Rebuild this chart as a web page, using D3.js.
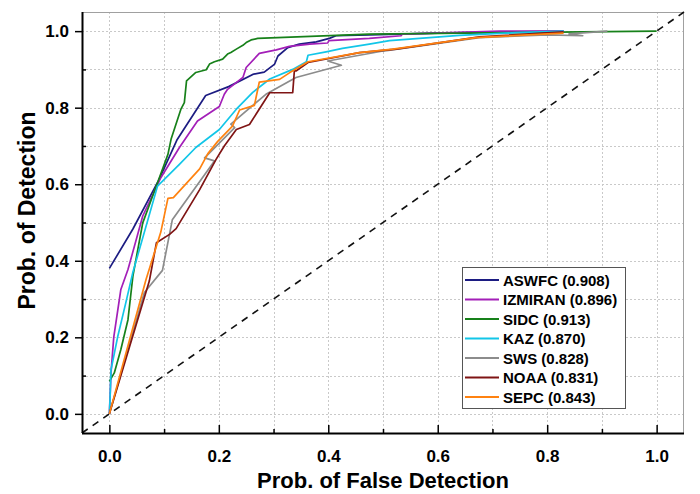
<!DOCTYPE html>
<html><head><meta charset="utf-8">
<script src="https://cdn.jsdelivr.net/npm/d3@7"></script>
<style>
body{margin:0;background:#fff}
svg{display:block;font-family:"Liberation Sans",Arial,sans-serif;font-weight:bold}
</style>
</head><body>
<svg id="chart" width="700" height="494"></svg>
<script>
// ---- data ----
const seriesNames = ["ASWFC", "IZMIRAN", "SIDC", "KAZ", "SWS", "NOAA", "SEPC"];
const seriesAUC = ["0.908", "0.896", "0.913", "0.870", "0.828", "0.831", "0.843"];
const seriesColors = ["#1c1c82", "#a31fb8", "#17811a", "#12c6e8", "#8c8c8c", "#7f1414", "#ff8210"];

const aswfcX = [0, 0.043, 0.09, 0.124, 0.176, 0.218, 0.262, 0.283, 0.302, 0.308, 0.326, 0.347, 0.378, 0.402, 0.414, 0.475, 0.6, 0.83];
const aswfcY = [0.38, 0.483, 0.61, 0.717, 0.832, 0.855, 0.887, 0.893, 0.914, 0.935, 0.957, 0.966, 0.972, 0.981, 0.988, 0.99, 0.995, 1.0];

const izmiranX = [0, 0.003, 0.008, 0.021, 0.034, 0.061, 0.094, 0.128, 0.161, 0.201, 0.21, 0.216, 0.244, 0.25, 0.274, 0.305, 0.329, 0.366, 0.399, 0.401, 0.475, 0.533, 0.535, 0.713, 0.83];
const izmiranY = [0, 0.107, 0.2, 0.325, 0.377, 0.517, 0.617, 0.696, 0.765, 0.803, 0.835, 0.848, 0.879, 0.905, 0.942, 0.951, 0.96, 0.966, 0.969, 0.975, 0.981, 0.988, 0.992, 1.0, 1.0];

const sidcX = [0, 0.009, 0.021, 0.034, 0.043, 0.061, 0.088, 0.107, 0.113, 0.131, 0.137, 0.141, 0.158, 0.177, 0.183, 0.192, 0.207, 0.216, 0.222, 0.232, 0.244, 0.25, 0.259, 0.271, 0.475, 1.0];
const sidcY = [0.085, 0.107, 0.168, 0.246, 0.36, 0.499, 0.604, 0.678, 0.719, 0.797, 0.813, 0.870, 0.892, 0.899, 0.914, 0.92, 0.927, 0.94, 0.944, 0.953, 0.963, 0.970, 0.977, 0.981, 0.992, 1.0];

const kazX = [0, 0.001, 0.003, 0.015, 0.030, 0.043, 0.088, 0.128, 0.158, 0.201, 0.232, 0.262, 0.293, 0.335, 0.36, 0.363, 0.396, 0.426, 0.475, 0.512, 0.64, 0.743, 0.83];
const kazY = [0, 0.03, 0.115, 0.2, 0.29, 0.37, 0.595, 0.652, 0.696, 0.743, 0.796, 0.84, 0.875, 0.90, 0.92, 0.937, 0.946, 0.955, 0.966, 0.975, 0.989, 0.996, 1.0];

const swsX = [0, 0.064, 0.097, 0.115, 0.192, 0.174, 0.229, 0.222, 0.286, 0.341, 0.424, 0.399, 0.5, 0.676, 0.80, 0.865, 0.84, 0.91];
const swsY = [0, 0.317, 0.375, 0.507, 0.661, 0.669, 0.748, 0.757, 0.835, 0.879, 0.911, 0.922, 0.948, 0.983, 0.99, 0.988, 0.993, 1.0];

const noaaX = [0, 0.073, 0.086, 0.11, 0.122, 0.165, 0.195, 0.21, 0.232, 0.256, 0.293, 0.335, 0.338, 0.341, 0.363, 0.457, 0.524, 0.676, 0.83];
const noaaY = [0, 0.347, 0.447, 0.469, 0.484, 0.586, 0.665, 0.70, 0.743, 0.756, 0.839, 0.839, 0.896, 0.896, 0.918, 0.944, 0.953, 0.985, 0.998];

const sepcX = [0, 0.067, 0.094, 0.107, 0.117, 0.165, 0.18, 0.198, 0.225, 0.238, 0.265, 0.274, 0.311, 0.329, 0.363, 0.457, 0.518, 0.67, 0.83];
const sepcY = [0, 0.351, 0.475, 0.563, 0.565, 0.64, 0.68, 0.712, 0.752, 0.794, 0.806, 0.867, 0.874, 0.891, 0.920, 0.944, 0.953, 0.983, 0.995];

const seriesX = [aswfcX, izmiranX, sidcX, kazX, swsX, noaaX, sepcX];
const seriesY = [aswfcY, izmiranY, sidcY, kazY, swsY, noaaY, sepcY];

const majorTicks = [0, 0.2, 0.4, 0.6, 0.8, 1.0];
const minorTicks = [0.1, 0.3, 0.5, 0.7, 0.9];
const gridTicks = [0, 0.1, 0.2, 0.3, 0.4, 0.5, 0.6, 0.7, 0.8, 0.9, 1.0];
const xTitle = "Prob. of False Detection";
const yTitle = "Prob. of Detection";

// ---- layout ----
const L = 82, R = 684, T = 12, B = 433;
const svg = d3.select("#chart");
const x = d3.scaleLinear().domain([-0.05, 1.05]).range([L, R]);
const y = d3.scaleLinear().domain([-0.05, 1.05]).range([B, T]);

// grid
const grid = svg.append("g").attr("stroke", "#c9c9c9").attr("stroke-width", 1).attr("stroke-dasharray", "2,2");
grid.selectAll(".gx").data(gridTicks).join("line")
  .attr("x1", d => Math.round(x(d)) + 0.5).attr("x2", d => Math.round(x(d)) + 0.5)
  .attr("y1", T).attr("y2", B);
grid.selectAll(".gy").data(gridTicks).join("line")
  .attr("y1", d => Math.round(y(d)) + 0.5).attr("y2", d => Math.round(y(d)) + 0.5)
  .attr("x1", L).attr("x2", R);

// frame top/right
svg.append("line").attr("x1", L).attr("x2", R).attr("y1", T + 0.5).attr("y2", T + 0.5).attr("stroke", "#a0a0a0").attr("stroke-width", 1);
svg.append("line").attr("x1", R - 0.5).attr("x2", R - 0.5).attr("y1", T).attr("y2", B).attr("stroke", "#a0a0a0").attr("stroke-width", 1);

// diagonal reference
svg.append("line")
  .attr("x1", x(-0.05)).attr("y1", y(-0.05)).attr("x2", x(1.05)).attr("y2", y(1.05))
  .attr("stroke", "#111").attr("stroke-width", 1.6).attr("stroke-dasharray", "7,6");

// curves
const line = d3.line().x(d => x(d[0])).y(d => y(d[1]));
seriesNames.forEach((name, i) => {
  const pts = seriesX[i].map((v, j) => [v, seriesY[i][j]]);
  svg.append("path").datum(pts)
    .attr("d", line).attr("fill", "none")
    .attr("stroke", seriesColors[i]).attr("stroke-width", 1.7)
    .attr("stroke-linejoin", "round");
});

// axes
const fmt = d3.format(".1f");
const xAxis = svg.append("g").attr("transform", `translate(0,${B})`)
  .call(d3.axisBottom(x).tickValues(majorTicks).tickFormat(fmt).tickSize(-8).tickPadding(17));
svg.append("g").attr("transform", `translate(0,${B})`)
  .call(d3.axisBottom(x).tickValues(minorTicks).tickFormat("").tickSize(-4))
  .call(g => g.select(".domain").remove());
const yAxis = svg.append("g").attr("transform", `translate(${L},0)`)
  .call(d3.axisLeft(y).tickValues(majorTicks).tickFormat(fmt).tickSize(7).tickPadding(6));
svg.append("g").attr("transform", `translate(${L},0)`)
  .call(d3.axisLeft(y).tickValues(minorTicks).tickFormat("").tickSize(-4))
  .call(g => g.select(".domain").remove());

[xAxis, yAxis].forEach(g => {
  g.select(".domain").attr("stroke", "#000").attr("stroke-width", 2);
  g.selectAll(".tick text").attr("fill", "#000").style("font-size", "17px").style("font-weight", "bold")
    .style("font-family", '"Liberation Sans", Arial, sans-serif');
});
xAxis.select(".domain").attr("d", `M${L},0.5H${R}`);
yAxis.select(".domain").attr("d", `M0.5,${T}V${B}`);
svg.selectAll(".tick line").attr("stroke", "#000").attr("stroke-width", 1.5);

// titles
svg.append("text").attr("x", (L + R) / 2).attr("y", 488).attr("text-anchor", "middle")
  .style("font-size", "22px").attr("fill", "#000").text(xTitle);
svg.append("text").attr("transform", `translate(35,${(T + B) / 2 - 12}) rotate(-90)`).attr("text-anchor", "middle")
  .style("font-size", "23px").attr("fill", "#000").text(yTitle);

// legend
const lg = svg.append("g");
lg.append("rect").attr("x", 462.5).attr("y", 267.5).attr("width", 163).attr("height", 141)
  .attr("fill", "#fff").attr("stroke", "#555").attr("stroke-width", 1);
seriesNames.forEach((name, i) => {
  const cy = 280 + i * 19.5;
  lg.append("line").attr("x1", 465).attr("x2", 499).attr("y1", cy).attr("y2", cy)
    .attr("stroke", seriesColors[i]).attr("stroke-width", 2);
  lg.append("text").attr("x", 503).attr("y", cy + 5.5).style("font-size", "15px").attr("fill", "#000")
    .text(`${name} (${seriesAUC[i]})`);
});
</script>
</body></html>
